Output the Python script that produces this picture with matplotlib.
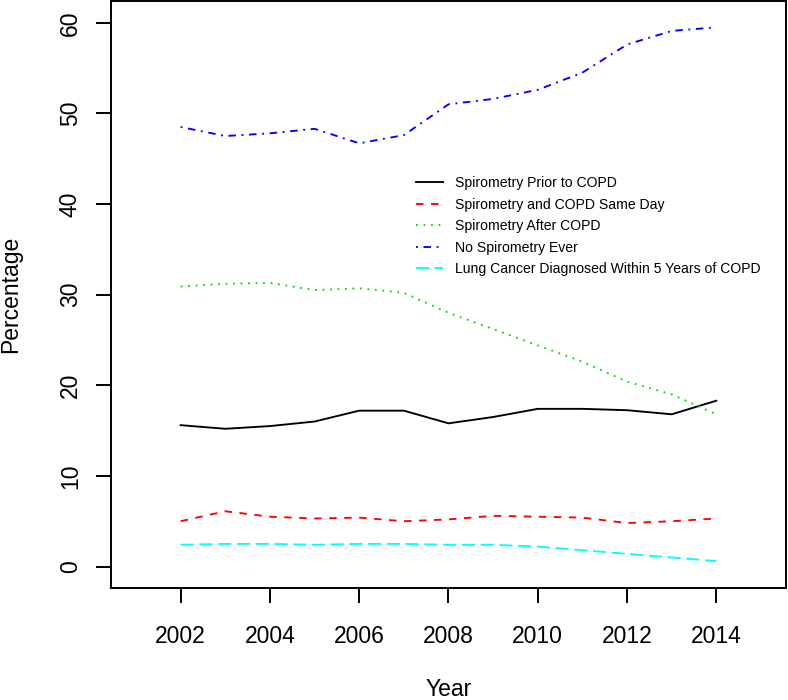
import matplotlib.pyplot as plt
import numpy as np

plt.rcParams['font.family'] = ['Liberation Sans', 'DejaVu Sans']

years = np.arange(2002, 2015)
prior = [15.6, 15.2, 15.5, 16.0, 17.2, 17.2, 15.8, 16.5, 17.4, 17.4, 17.25, 16.8, 18.3]
same_day = [5.0, 6.1, 5.5, 5.3, 5.4, 5.0, 5.2, 5.6, 5.5, 5.4, 4.8, 5.0, 5.3]
after = [30.9, 31.2, 31.3, 30.5, 30.7, 30.2, 28.0, 26.2, 24.4, 22.6, 20.4, 19.0, 16.8]
never = [48.5, 47.5, 47.8, 48.3, 46.7, 47.6, 51.0, 51.6, 52.6, 54.5, 57.6, 59.1, 59.5]
lung_cancer = [2.4, 2.5, 2.5, 2.4, 2.5, 2.5, 2.4, 2.4, 2.2, 1.8, 1.4, 1.0, 0.6]

labels = ["Spirometry Prior to COPD", "Spirometry and COPD Same Day",
          "Spirometry After COPD", "No Spirometry Ever",
          "Lung Cancer Diagnosed Within 5 Years of COPD"]

fig = plt.figure(figsize=(7.88, 7.0), dpi=100)
ax = fig.add_axes([111/788, (700-588.3)/700, 675/788, 587.3/700])

lw = 1.35
ax.plot(years, prior, color="black", lw=lw, linestyle="-", label=labels[0])
ax.plot(years, same_day, color="red", lw=lw, linestyle=(0, (4, 4)), label=labels[1])
ax.plot(years, after, color="#00e000", lw=lw, linestyle=(0, (1, 3)), label=labels[2])
ax.plot(years, never, color="blue", lw=lw, linestyle=(0, (1, 3, 4, 3)), label=labels[3])
ax.plot(years, lung_cancer, color="cyan", lw=lw, linestyle=(0, (7, 3)), label=labels[4])

ax.set_xlim(2000.44, 2015.56)
ax.set_ylim(-2.4, 62.4)
ax.set_xticks(range(2002, 2015, 2))
ax.set_yticks(range(0, 61, 10))
ax.tick_params(axis="both", length=11, width=1.4, labelsize=16.5)
ax.tick_params(axis="x", pad=15.5)
ax.tick_params(axis="y", pad=10)
for t in ax.get_yticklabels():
    t.set_rotation(90)
    t.set_va("center")

for s in ax.spines.values():
    s.set_linewidth(1.4)

ax.set_xlabel("Year", fontsize=16.5)
ax.set_ylabel("Percentage", fontsize=16.5)
ax.xaxis.set_label_coords(0.5, -0.153)
ax.yaxis.set_label_coords(-0.131, 0.5)

ax.legend(loc="upper left", bbox_to_anchor=(416/788, 1 - 176/700),
          bbox_transform=fig.transFigure, frameon=False, fontsize=10.1,
          handlelength=1.95, handletextpad=0.85, labelspacing=0.54,
          borderpad=0, borderaxespad=0)

fig.savefig("out.png", dpi=100)
